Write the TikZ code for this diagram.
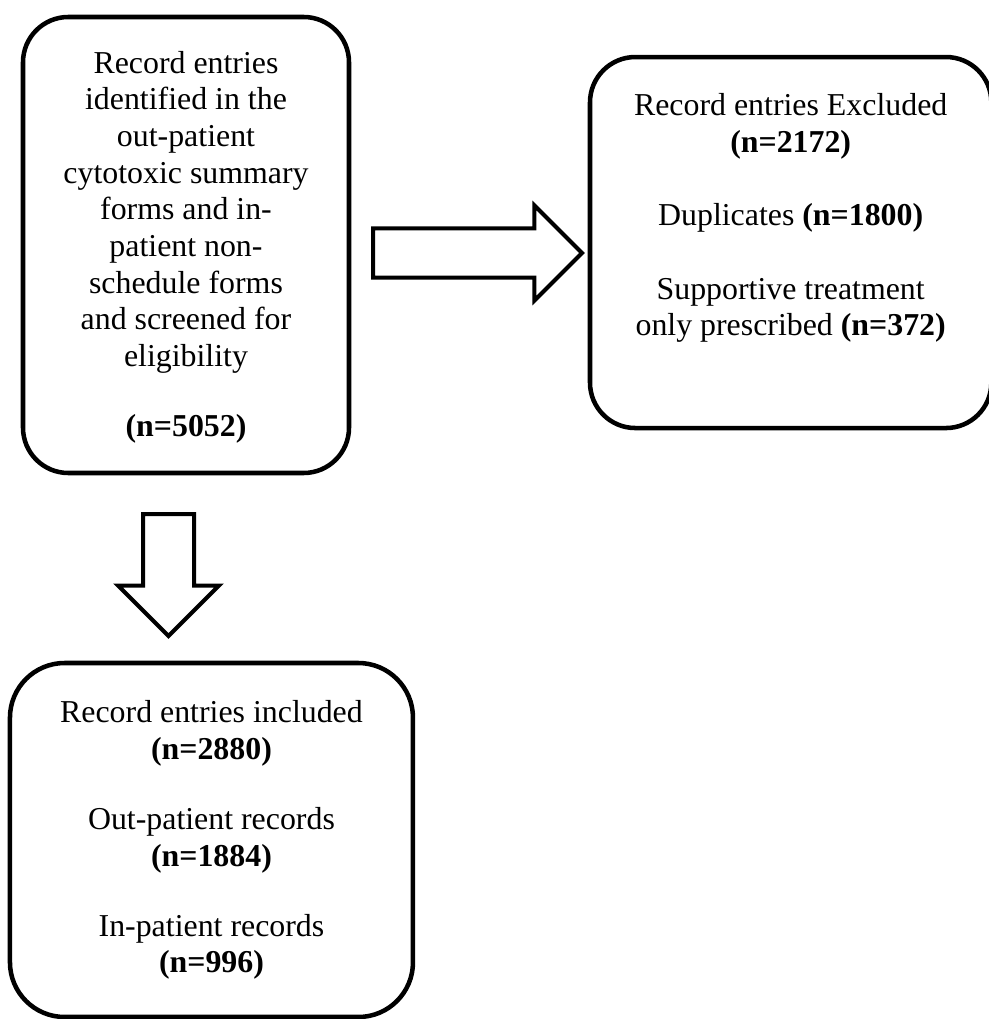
\documentclass[tikz,border=0pt]{standalone}
\usepackage{fontspec}
\setmainfont{Liberation Serif}
\usetikzlibrary{positioning,shapes.arrows}

\begin{document}
\begin{tikzpicture}[
  flowbox/.style={draw, line width=3.4pt, rounded corners=34pt, align=center, outer sep=0pt,
                  font=\fontsize{23.9}{27.5}\selectfont, inner sep=0pt},
  fatarrow/.style={single arrow, draw, line width=3pt, fill=white, outer sep=0pt,
                   single arrow head indent=0pt, minimum width=0pt, anchor=tail}
]
  \useasboundingbox (0,0) rectangle (741pt,-764.25pt);

  %% Records screened (top left)
  \node[flowbox, minimum width=244.5pt, minimum height=342pt] (scr) at (139.5pt,-183.75pt)
    {\rule{0pt}{20pt}Record entries\\identified in the\\out-patient\\cytotoxic summary\\forms and in-\\patient non-\\schedule forms\\and screened for\\eligibility\\[25pt]\textbf{(n=5052)}};

  %% Records excluded (top right)
  \node[flowbox, minimum width=301pt, minimum height=278.25pt] (excl) at (593pt,-181.9pt)
    {Record entries Excluded\\\textbf{(n=2172)}\\[27.5pt]Duplicates \textbf{(n=1800)}\\[27.5pt]Supportive treatment\\only prescribed \textbf{(n=372)}\\[14pt]\mbox{}};

  %% Records included (bottom left)
  \node[flowbox, rounded corners=41pt, minimum width=302.25pt, minimum height=265.5pt] (incl) at (158.6pt,-630pt)
    {Record entries included\\\textbf{(n=2880)}\\[25pt]Out-patient records\\\textbf{(n=1884)}\\[25pt]In-patient records\\\textbf{(n=996)}};

  %% Block arrows between the boxes
  \node[fatarrow, inner sep=16.9pt, single arrow head extend=17.25pt, minimum height=156.75pt,
        right=18pt of scr, anchor=tail, yshift=-6pt] (toexcl) {};
  \node[fatarrow, inner sep=17.6pt, single arrow head extend=18.75pt, minimum height=91.5pt,
        shape border rotate=270, below=30.75pt of scr, anchor=tail, xshift=-13.1pt] (toincl) {};
\end{tikzpicture}
\end{document}
